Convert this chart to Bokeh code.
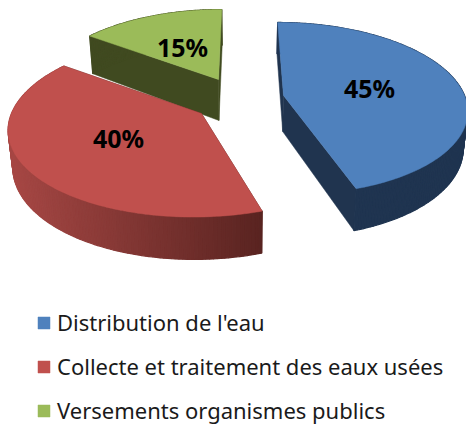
import math
from bokeh.core.properties import value
from bokeh.embed import file_html
from bokeh.models import Legend, LegendItem, Range1d
from bokeh.plotting import figure
from bokeh.resources import INLINE

categories = ["Distribution de l'eau", "Collecte et traitement des eaux usées", "Versements organismes publics"]
shares = [45, 40, 15]
top_colors = ["#4f81bd", "#c0504d", "#9bbb59"]

# projection of each exploded slice (layout only)
centres = [(283, 95), (201, 113), (218, 79)]
radii_x = [181, 190, 176]
radii_y = [84, 88, 80.5]
depths = [36, 36, 41]
label_pos = [(369, 87.5), (118, 137.5), (182, 46.5)]
PERSP = 0.15
VANISH_X = 242
SHEAR = 0.00195


def proj(i, theta_deg, r=1.0):
    cx, cy = centres[i]
    t = math.radians(theta_deg)
    u, v = r * math.sin(t), r * math.cos(t)
    w = 1 + PERSP * v
    dy = -radii_y[i] * v / w
    dx = radii_x[i] * u / w + (cx - VANISH_X) * SHEAR * dy
    return cx + dx, cy + dy, w


def down(i, p):
    x, y, w = p
    return x + (VANISH_X - x) * 0.02, y + depths[i] / w


def lerp(c1, c2, f):
    return "#%02x%02x%02x" % tuple(round(a + (b - a) * f) for a, b in zip(c1, c2))


p = figure(width=466, height=424, output_backend="svg", toolbar_location=None,
           x_range=Range1d(0, 466), y_range=Range1d(424, 0), min_border=0,
           x_axis_type=None, y_axis_type=None, outline_line_color=None,
           background_fill_color="white", border_fill_color="white")
p.xgrid.visible = False
p.ygrid.visible = False

# slice angles from the shares
bounds = []
a = 0.0
for s in shares:
    bounds.append((a, a + s * 3.6))
    a += s * 3.6

wall_left = [(0x1f, 0x34, 0x52), (0xa6, 0x47, 0x44), (0x40, 0x4a, 0x20)]
wall_right = [(0x1f, 0x34, 0x50), (0x4f, 0x1f, 0x1c), (0x40, 0x4a, 0x20)]
cut_colors = ["#20344f", "#4f1f1c", "#404a20"]

tops = {}
for i in [2, 1, 0]:
    start, end = bounds[i]
    cx, cy = centres[i]
    apex = (cx, cy, 1.0)
    apex_low = down(i, apex)
    # cut faces
    for th in (start, end):
        q = proj(i, th)
        ql = down(i, q)
        p.patch([cx, q[0], ql[0], apex_low[0]], [cy, q[1], ql[1], apex_low[1]],
                fill_color=cut_colors[i], line_color=cut_colors[i], line_width=0.5)
    # outer wall, drawn as graded strips
    n = max(int(end - start), 2)
    xmin, xmax = cx - radii_x[i], cx + radii_x[i] * 0.5
    for k in range(n):
        t0 = start + (end - start) * k / n
        t1 = start + (end - start) * (k + 1) / n
        q0, q1 = proj(i, t0), proj(i, t1)
        l0, l1 = down(i, q0), down(i, q1)
        f = min(max((q0[0] - xmin) / (xmax - xmin), 0), 1)
        col = lerp(wall_left[i], wall_right[i], f)
        p.patch([q0[0], q1[0], l1[0], l0[0]], [q0[1], q1[1], l1[1], l0[1]],
                fill_color=col, line_color=col, line_width=1.2)
    # top face
    arc = [proj(i, start + (end - start) * k / 180) for k in range(181)]
    xs = [cx] + [q[0] for q in arc]
    ys = [cy] + [q[1] for q in arc]
    tops[i] = p.patch(xs, ys, fill_color=top_colors[i], line_color=top_colors[i], line_width=0.5)

for i, s in enumerate(shares):
    p.text([label_pos[i][0]], [label_pos[i][1]], text=[f"{s}%"], text_align="center",
           text_baseline="middle", text_color="black", text_font=value("Noto Sans"),
           text_font_size="25px", text_font_style="bold")

legend = Legend(
    items=[LegendItem(label=value(categories[i]), renderers=[tops[i]]) for i in range(3)],
    location=(36, -1), orientation="vertical", background_fill_alpha=0, border_line_color=None,
    glyph_width=15, glyph_height=15, label_standoff=6, spacing=14, padding=0, margin=0,
    label_text_font="Noto Sans", label_text_font_size="22px", label_text_color="#1a1a1a",
    label_height=22, label_text_baseline="middle", click_policy="none",
)
p.add_layout(legend, "center")

open("out.html", "w").write(file_html(p, INLINE))
